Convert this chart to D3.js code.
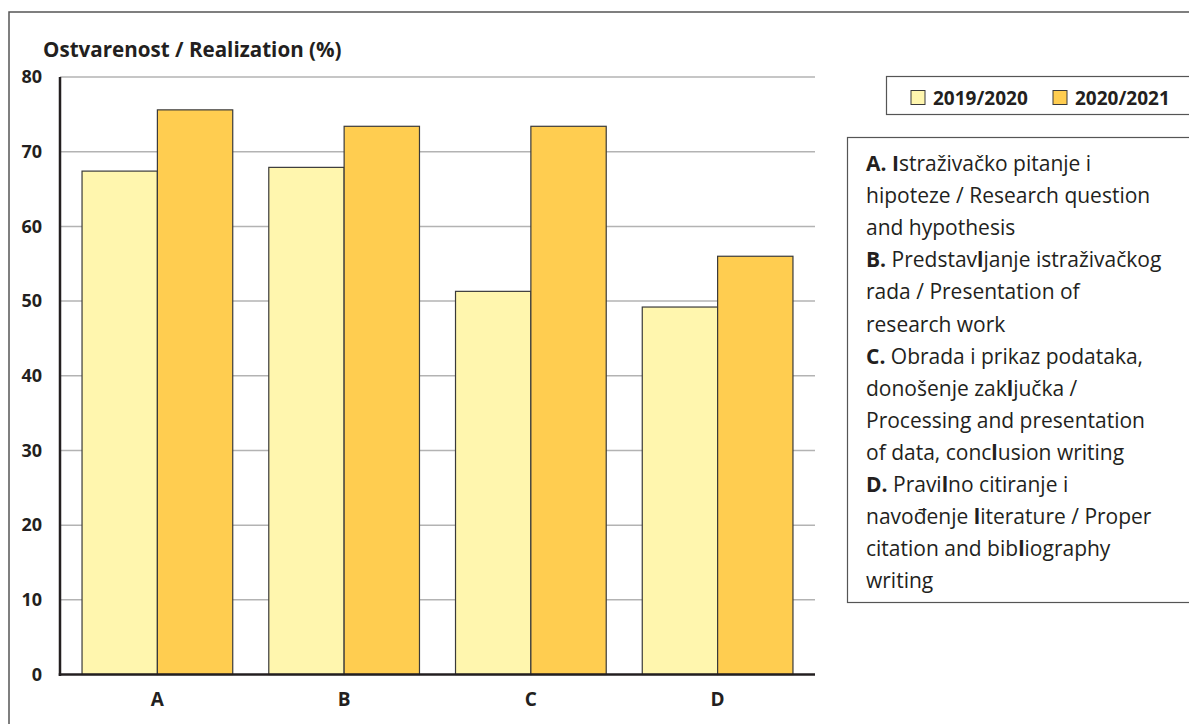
<!DOCTYPE html>
<html><head><meta charset="utf-8">
<script src="https://cdn.jsdelivr.net/npm/d3@7"></script>
<style>body{margin:0;background:#fff}svg{display:block}text{font-family:"Open Sans",sans-serif;fill:#231f20}</style>
</head><body><svg id="c" width="1189" height="724"></svg>
<script>
const categories = ["A", "B", "C", "D"];
const seriesNames = ["2019/2020", "2020/2021"];
const values2019 = [67.4, 67.9, 51.3, 49.2];
const values2020 = [75.6, 73.4, 73.4, 56.0];
const yTicks = [0, 10, 20, 30, 40, 50, 60, 70, 80];
const yTitle = "Ostvarenost / Realization (%)";
const descLines = [
  ["A.", "Istraživačko pitanje i"],
  ["", "hipoteze / Research question"],
  ["", "and hypothesis"],
  ["B.", "Predstavljanje istraživačkog"],
  ["", "rada / Presentation of"],
  ["", "research work"],
  ["C.", "Obrada i prikaz podataka,"],
  ["", "donošenje zaključka /"],
  ["", "Processing and presentation"],
  ["", "of data, conclusion writing"],
  ["D.", "Pravilno citiranje i"],
  ["", "navođenje literature / Proper"],
  ["", "citation and bibliography"],
  ["", "writing"]
];
const colors = ["#fff6ae", "#ffcd50"];

const svg = d3.select("#c");
svg.append("rect").attr("x", 9).attr("y", 12).attr("width", 1300).attr("height", 900)
  .attr("fill", "none").attr("stroke", "#555").attr("stroke-width", 1.5);

const L = 60, R = 815, T = 77, B = 674.5;
const x = d3.scaleBand().domain(categories).range([L, R]).paddingInner(0.193).paddingOuter(0.118);
const xs = d3.scaleBand().domain(seriesNames).range([0, x.bandwidth()]);
const y = d3.scaleLinear().domain([0, 80]).range([B, T]);

// grid
svg.append("g").selectAll("line").data(yTicks.filter(d => d > 0)).join("line")
  .attr("x1", L).attr("x2", R).attr("y1", d => y(d)).attr("y2", d => y(d))
  .attr("stroke", "#b3b3b3").attr("stroke-width", 1.5);

// bars
const data = categories.map((c, i) => ({c, v: [values2019[i], values2020[i]]}));
const g = svg.append("g").selectAll("g").data(data).join("g")
  .attr("transform", d => `translate(${x(d.c)},0)`);
g.selectAll("rect").data(d => d.v.map((v, j) => ({v, s: seriesNames[j], j}))).join("rect")
  .attr("x", d => xs(d.s)).attr("width", xs.bandwidth())
  .attr("y", d => y(d.v)).attr("height", d => B - y(d.v))
  .attr("fill", d => colors[d.j]).attr("stroke", "#3a3a3a").attr("stroke-width", 1.2);

// y axis
const yAxis = d3.axisLeft(y).tickValues(yTicks).tickSize(0).tickPadding(18);
const ya = svg.append("g").attr("transform", `translate(${L},0)`).call(yAxis);
ya.select(".domain").remove();
ya.selectAll("text").attr("font-size", 18).attr("font-weight", "bold").attr("fill", "#231f20")
  .style("font-family", '"Open Sans",sans-serif');
svg.append("line").attr("x1", L).attr("x2", L).attr("y1", T).attr("y2", B + 1.5)
  .attr("stroke", "#231f20").attr("stroke-width", 2.5);

// x axis
const xAxis = d3.axisBottom(x).tickSize(0).tickPadding(18);
const xa = svg.append("g").attr("transform", `translate(0,${B})`).call(xAxis);
xa.select(".domain").remove();
xa.selectAll("text").attr("font-size", 19).attr("font-weight", "bold").attr("fill", "#231f20")
  .style("font-family", '"Open Sans",sans-serif');
svg.append("line").attr("x1", L - 1.25).attr("x2", R).attr("y1", B).attr("y2", B)
  .attr("stroke", "#231f20").attr("stroke-width", 2.5);

// title
svg.append("text").attr("x", 43).attr("y", 57).attr("font-size", 20.6).attr("font-weight", "bold")
  .text(yTitle);

// legend
svg.append("rect").attr("x", 886.5).attr("y", 76.5).attr("width", 320).attr("height", 38)
  .attr("fill", "#fff").attr("stroke", "#555").attr("stroke-width", 1.2);
const legX = [911, 1053];
seriesNames.forEach((s, i) => {
  svg.append("rect").attr("x", legX[i]).attr("y", 90.5).attr("width", 14).attr("height", 14)
    .attr("fill", colors[i]).attr("stroke", "#3a3a3a").attr("stroke-width", 1);
  svg.append("text").attr("x", legX[i] + 22).attr("y", 104.5).attr("font-size", 19).attr("font-weight", "bold").text(s);
});

// description box
svg.append("rect").attr("x", 847.5).attr("y", 137.5).attr("width", 360).attr("height", 465)
  .attr("fill", "#fff").attr("stroke", "#555").attr("stroke-width", 1.2);
const dt = svg.append("g");
descLines.forEach((ln, i) => {
  const t = dt.append("text").attr("x", 866).attr("y", 171 + i * 32.1).attr("font-size", 21);
  if (ln[0]) t.append("tspan").attr("font-weight", "bold").text(ln[0] + " ");
  ln[1].split(/([lI])/).forEach(part => {
    if (!part) return;
    t.append("tspan").attr("font-weight", /^[lI]$/.test(part) ? "bold" : "normal").text(part);
  });
});
</script></body></html>
